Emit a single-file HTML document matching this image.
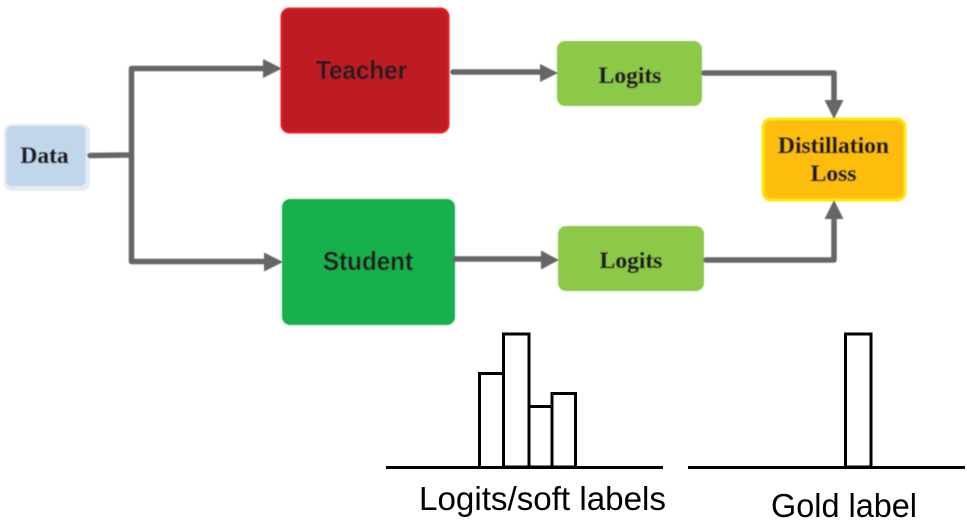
<!DOCTYPE html>
<html>
<head>
<meta charset="utf-8">
<style>
html,body{margin:0;padding:0;background:#fff;width:967px;height:522px;overflow:hidden}
svg{display:block}
.s{font-family:"Liberation Serif",serif;font-weight:700;font-size:23.5px;fill:#231f20;text-anchor:middle;stroke:#231f20;stroke-width:.35}
.b{font-family:"Liberation Sans",sans-serif;font-weight:700;font-size:26px;fill:#231f20}
.c{font-family:"Liberation Sans",sans-serif;font-size:33px;fill:#000}
.w{fill:none;stroke:#666668;stroke-width:5.5;stroke-linejoin:round;stroke-linecap:round}
.a{fill:#666668}
.k{fill:none;stroke:#000;stroke-width:3}
</style>
</head>
<body>
<svg width="967" height="522" viewBox="0 0 967 522" xmlns="http://www.w3.org/2000/svg">
<defs><filter id="f" x="-5%" y="-5%" width="110%" height="110%"><feGaussianBlur stdDeviation="0.45"/></filter></defs>
<g filter="url(#f)">
<rect x="4" y="124" width="86" height="67" rx="8" fill="#e3ebf2"/>
<rect x="6.5" y="126" width="79" height="60" rx="5" fill="#c0d6eb"/>
<rect x="281.5" y="8.5" width="167" height="124" rx="8" fill="#bc1e22" stroke="#ed1c24" stroke-width="2"/>
<rect x="282" y="199" width="173" height="126" rx="8" fill="#16b04d"/>
<rect x="557" y="41" width="145" height="65" rx="8" fill="#8dc94a"/>
<rect x="558" y="226" width="146" height="65" rx="8" fill="#8dc94a"/>
<rect x="763" y="119" width="142" height="81" rx="8" fill="#fdbd10" stroke="#fbe80b" stroke-width="3"/>

<path class="w" d="M90 155.5L131.5 155"/>
<path class="w" d="M265 68.5H131.5V261.5H266"/>
<polygon class="a" points="263,59 282,68.5 263,78"/>
<polygon class="a" points="264,252.5 283,262 264,271.5"/>
<path class="w" d="M453 72H542"/>
<polygon class="a" points="540,64 558,73 540,82"/>
<path class="w" d="M455 259H544"/>
<polygon class="a" points="541,250.5 559,260 541,269.5"/>
<path class="w" d="M704 73H834V102"/>
<polygon class="a" points="824.5,100 843.5,100 834,119"/>
<path class="w" d="M706 260H834V217"/>
<polygon class="a" points="824.5,219 843.5,219 834,200"/>

<text class="s" x="44.5" y="163">Data</text>
<text class="b" x="316" y="79" textLength="91" lengthAdjust="spacingAndGlyphs">Teacher</text>
<text class="b" x="323" y="270" textLength="90" lengthAdjust="spacingAndGlyphs">Student</text>
<text class="s" x="630" y="83">Logits</text>
<text class="s" x="631" y="268">Logits</text>
<text class="s" x="833.5" y="153">Distillation</text>
<text class="s" x="833.5" y="181">Loss</text>
</g>

<rect class="k" x="479.5" y="373.5" width="24" height="94"/>
<rect class="k" x="503.5" y="334" width="25.5" height="133"/>
<rect class="k" x="529" y="406.5" width="23" height="60.5"/>
<rect class="k" x="552" y="393.5" width="23.5" height="73.5"/>
<rect class="k" x="845.5" y="334" width="25.5" height="133"/>
<path d="M386 467.5H663M688 467.5H965" fill="none" stroke="#000" stroke-width="3"/>

<text class="c" x="419" y="510" textLength="247" lengthAdjust="spacingAndGlyphs">Logits/soft labels</text>
<text class="c" x="771" y="517" textLength="146" lengthAdjust="spacingAndGlyphs">Gold label</text>
</svg>
</body>
</html>
